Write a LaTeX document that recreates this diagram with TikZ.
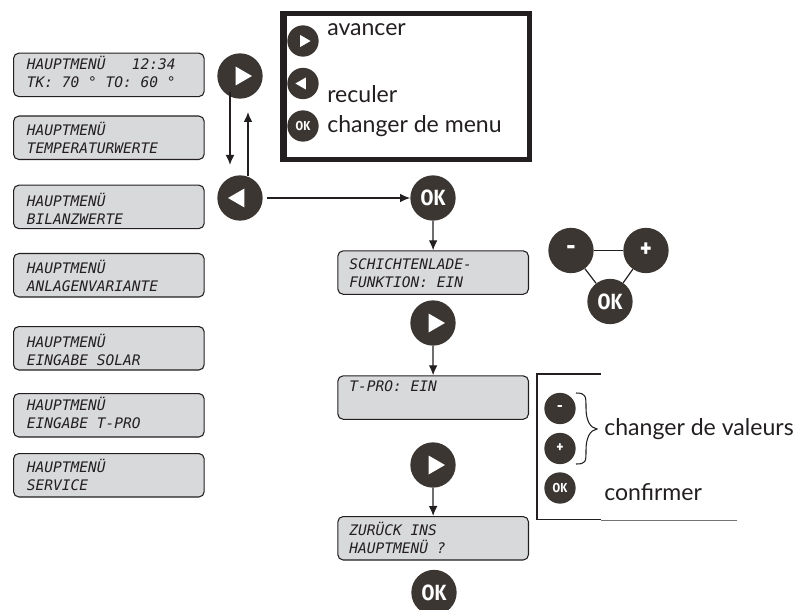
\documentclass[tikz,border=0pt]{standalone}
\usepackage{fontspec}
\setmainfont{Liberation Sans}
\newfontfamily\lcdfont{DejaVu Sans Mono}
\newfontfamily\labelfont{Lato}
\newfontfamily\okfont[FakeStretch=0.85]{Fira Sans}
\usetikzlibrary{arrows.meta,calc}
\definecolor{btn}{HTML}{3B3632}
\definecolor{lcd}{HTML}{D8D9DB}
\definecolor{ink}{HTML}{231F20}
\tikzset{
  x=0.75pt,y=-0.75pt,
  lcdbox/.style={draw=ink,line width=0.8pt,fill=lcd,rounded corners=4pt,minimum width=143pt,minimum height=32.6pt,inner sep=0pt,anchor=north west},
  lcdtext/.style={anchor=north west,inner sep=0pt,align=left,font=\lcdfont\itshape\fontsize{10.9}{13.9}\selectfont,text=ink},
  btnbig/.style={circle,fill=btn,minimum size=34pt,inner sep=0pt},
  btnsmall/.style={circle,fill=btn,minimum size=23.5pt,inner sep=0pt},
  oktext/.style={text=white,font=\okfont\bfseries\fontsize{16.5}{16.5}\selectfont,inner sep=0pt},
  oksmall/.style={text=white,font=\okfont\bfseries\fontsize{9.7}{9.7}\selectfont,inner sep=0pt},
  signbig/.style={text=white,font=\okfont\bfseries\fontsize{20}{20}\selectfont,inner sep=0pt},
  signsmall/.style={text=white,font=\okfont\bfseries\fontsize{12}{12}\selectfont,inner sep=0pt},
  flow/.style={draw=ink,line width=0.9pt,-{Latex[length=7.5pt,width=6.5pt]}},
  legend/.style={font=\labelfont\fontsize{17.3}{20}\selectfont,inner sep=0pt,anchor=base west,text=ink},
}
\newcommand{\playicon}[2]{\fill[white] ($(#1)+(-#2*0.47,-#2)$) -- ($(#1)+(#2*1.26,0)$) -- ($(#1)+(-#2*0.47,#2)$) -- cycle;}
\newcommand{\backicon}[2]{\fill[white] ($(#1)+(#2*0.47,-#2)$) -- ($(#1)+(-#2*1.26,0)$) -- ($(#1)+(#2*0.47,#2)$) -- cycle;}
\newcommand{\lcdl}{\vphantom{Ü}}
\begin{document}
\begin{tikzpicture}
\useasboundingbox (0,0) rectangle (794,610);
% left LCD
\node[lcdbox] (b1) at (13,52.6) {};
\node[lcdbox] (b2) at (13,115.5) {};
\node[lcdbox] (b3) at (13,184.6) {};
\node[lcdbox] (b4) at (13,253) {};
\node[lcdbox] (b5) at (13,326) {};
\node[lcdbox] (b6) at (13,393) {};
\node[lcdbox] (b7) at (13,453) {};
\node[lcdtext] (t1) at (26.5,55.5) {\lcdl HAUPTMENÜ~~~12:34\\TK:~70~°~TO:~60~°};
\node[lcdtext] (t2) at (26.5,121.5) {\lcdl HAUPTMENÜ\\TEMPERATURWERTE};
\node[lcdtext] (t3) at (26.5,192.5) {\lcdl HAUPTMENÜ\\BILANZWERTE};
\node[lcdtext] (t4) at (26.5,259.5) {\lcdl HAUPTMENÜ\\ANLAGENVARIANTE};
\node[lcdtext] (t5) at (26.5,333.5) {\lcdl HAUPTMENÜ\\EINGABE SOLAR};
\node[lcdtext] (t6) at (26.5,396.5) {\lcdl HAUPTMENÜ\\EINGABE T-PRO};
\node[lcdtext] (t7) at (26.5,458.5) {\lcdl HAUPTMENÜ\\SERVICE};
% centre LCD
\node[lcdbox] (c1) at (337.3,250.3) {};
\node[lcdbox] (c2) at (337.3,375.3) {};
\node[lcdbox] (c3) at (337.3,516) {};
\node[lcdtext] (ct1) at (349,255.5) {\lcdl SCHICHTENLADE-\\FUNKTION: EIN};
\node[lcdtext] (ct2) at (349,377.5) {\lcdl T-PRO: EIN};
\node[lcdtext] (ct3) at (349,521.5) {\lcdl ZURÜCK INS\\HAUPTMENÜ ?};
% buttons
\node[btnbig] (p1) at (240,76) {};
\node[btnbig] (r1) at (240,198) {};
\node[btnbig] (ok1) at (433,198) {};
\node[btnbig] (p2) at (433,323) {};
\node[btnbig] (p3) at (433,465) {};
\node[btnbig] (ok2) at (434,592.5) {};
\node[oktext] at (ok1) {OK};
\node[oktext] at (ok2) {OK};
\playicon{p1}{9.5}
\backicon{r1}{9.5}
\playicon{p2}{9.5}
\playicon{p3}{9.5}
% triangle
\node[btnbig] (minus) at (571,250.5) {};
\node[btnbig] (plus) at (646,250.5) {};
\node[btnbig] (ok3) at (610,301.5) {};
\node[oktext] at (ok3) {OK};
\node[signbig] at (minus) {-};
\node[signbig] at (plus) {+};
\draw[draw=ink,line width=0.9pt] (minus) -- (plus);
\draw[draw=ink,line width=0.9pt] (minus) -- (ok3);
\draw[draw=ink,line width=0.9pt] (plus) -- (ok3);
% flow
\coordinate (pd) at (230,165);
\coordinate (pu) at (248,112);
\coordinate (ps) at (230,92);
\coordinate (rs) at (248,176);
\draw[flow,line width=1.1pt] (ps) -- (pd);
\draw[flow] (rs) -- (pu);
\draw[flow,shorten <=3pt] (r1) -- (ok1);
\draw[flow] (ok1) -- (c1);
\draw[flow] (p2) -- (c2);
\draw[flow] (p3) -- (c3);
% legend box
\draw[draw=ink,line width=3.75pt] (283,13.5) rectangle (529.5,159.5);
\fill[ink] (280,11) rectangle (287,162);
\node[btnsmall] (l1) at (303,41) {};
\node[btnsmall] (l2) at (303,83.5) {};
\node[btnsmall] (l3) at (303,126) {};
\playicon{l1}{6}
\backicon{l2}{6}
\node[oksmall] at (l3) {OK};
\node[legend] (a1) at (327,36) {avancer};
\node[legend] (a2) at (327,103) {reculer};
\node[legend] (a3) at (327,133) {changer de menu};
% bottom legend
\draw[draw=ink,line width=0.8pt] (601,374) -- (537,374) -- (537,519.5) -- (601,519.5);
\draw[line width=0.5pt,draw=black!55] (601,520) -- (737,520);
\node[btnsmall] (m) at (560,408.5) {};
\node[btnsmall] (q) at (560,448.5) {};
\node[btnsmall] (ok4) at (560,488) {};
\node[signsmall] at (m) {-};
\node[signsmall] at (q) {+};
\node[oksmall] at (ok4) {OK};
\draw[draw=ink,line width=0.8pt] (576,393) .. controls (586,393) and (586,396) .. (586,408) .. controls (586,420) and (590,428) .. (597,429) .. controls (590,430) and (586,438) .. (586,450) .. controls (586,462) and (586,464) .. (576,464);
\node[legend] (v1) at (604,435) {changer de valeurs};
\node[legend] (v2) at (604,500) {confirmer};
\end{tikzpicture}
\end{document}
